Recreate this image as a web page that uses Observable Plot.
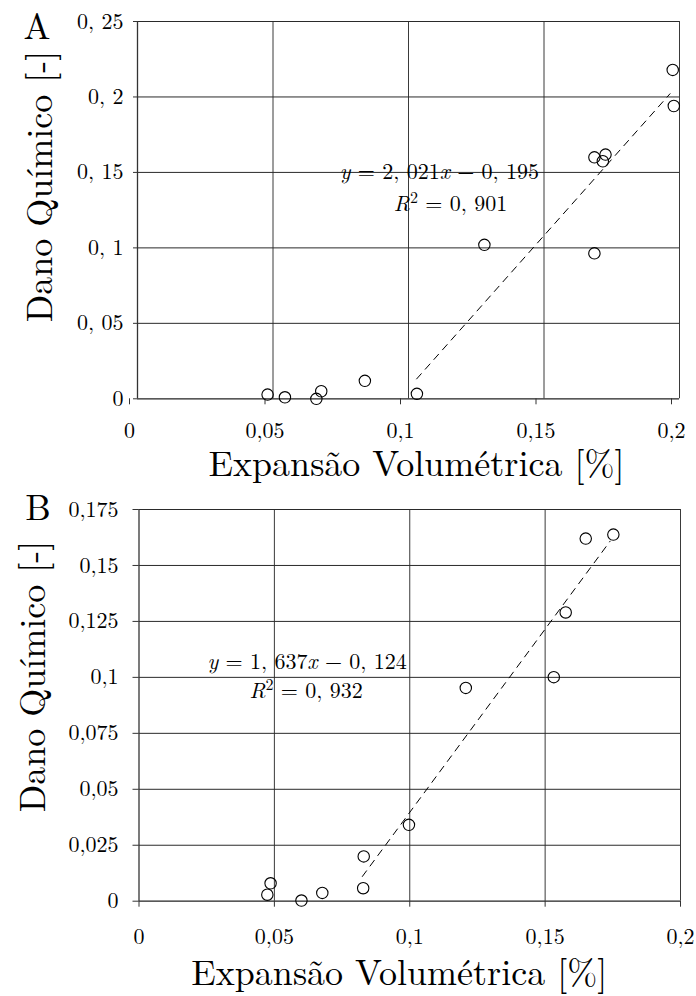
<!DOCTYPE html>
<html><head><meta charset="utf-8">
<script src="https://cdn.jsdelivr.net/npm/d3@7"></script>
<script src="https://cdn.jsdelivr.net/npm/@observablehq/plot@0.6"></script>
<style>
body{margin:0;background:#fff;}
#chart{width:696px;}
#chart svg{display:block;}
</style></head><body><div id="chart"></div>
<script>
// ---- shared x axis ----
const xTicks = [0, 0.05, 0.1, 0.15, 0.2];
const xTickLabels = ["0", "0,05", "0,1", "0,15", "0,2"];
const xTitle = "Expansão Volumétrica [%]";
const yTitle = "Dano Químico [-]";

// ---- panel A ----
const yTicksA = [0, 0.05, 0.1, 0.15, 0.2, 0.25];
const yTickLabelsA = ["0", "0, 05", "0, 1", "0, 15", "0, 2", "0, 25"];
const expansionA = [0.048, 0.0544, 0.066, 0.0678, 0.0839, 0.1031, 0.128, 0.1686, 0.1686, 0.1717, 0.1727, 0.1975, 0.1979];
const damageA    = [0.0028, 0.001, 0.0, 0.005, 0.0119, 0.0033, 0.102, 0.160, 0.0964, 0.1574, 0.1618, 0.2179, 0.194];
const slopeA = 2.021, interceptA = -0.195;
const fitRangeA = [0.103, 0.1965];
const eqTextA = "y = 2, 021x − 0, 195";
const r2TextA = "R² = 0, 901";

// ---- panel B ----
const yTicksB = [0, 0.025, 0.05, 0.075, 0.1, 0.125, 0.15, 0.175];
const yTickLabelsB = ["0", "0,025", "0,05", "0,075", "0,1", "0,125", "0,15", "0,175"];
const expansionB = [0.0474, 0.0486, 0.06, 0.0677, 0.0828, 0.083, 0.0997, 0.1207, 0.1532, 0.1576, 0.165, 0.1752];
const damageB    = [0.0029, 0.008, 0.0003, 0.0037, 0.0058, 0.02, 0.0341, 0.0953, 0.1001, 0.129, 0.162, 0.1638];
const slopeB = 1.637, interceptB = -0.124;
const fitRangeB = [0.0825, 0.174];
const eqTextB = "y = 1, 637x − 0, 124";
const r2TextB = "R² = 0, 932";

const FONT = "'Latin Modern Roman', 'Liberation Serif', serif";

function panel(cfg) {
  const fmtX = d => xTickLabels[xTicks.indexOf(d)];
  const fmtY = d => cfg.yLabels[cfg.yTicks.indexOf(d)];
  const pts = cfg.xs.map((x, i) => ({x, y: cfg.ys[i]}));
  const fit = cfg.fitRange.map(x => ({x, y: cfg.slope * x + cfg.intercept}));
  const ann = [
    {x: cfg.eqPos[0], y: cfg.eqPos[1], t: cfg.eq},
    {x: cfg.r2Pos[0], y: cfg.r2Pos[1], t: cfg.r2}
  ];
  return Plot.plot({
    width: 696, height: cfg.height,
    marginLeft: cfg.ml, marginRight: cfg.mr, marginTop: cfg.mt, marginBottom: cfg.mb,
    x: {domain: [0, 0.2]},
    y: {domain: [0, cfg.yTicks[cfg.yTicks.length - 1]]},
    style: {fontFamily: FONT, color: "#000", background: "#fff", overflow: "visible"},
    marks: [
      Plot.gridX(xTicks.slice(1), {stroke: "#3a3a3a", strokeOpacity: 1, strokeWidth: 1}),
      Plot.gridY(cfg.yTicks.slice(1), {stroke: "#2a2a2a", strokeOpacity: 1, strokeWidth: 1}),
      Plot.ruleX([0], {stroke: "#333", strokeWidth: 1.3}),
      Plot.ruleY([0], {stroke: "#222", strokeWidth: 1.3}),
      Plot.axisX(xTicks, {tickFormat: fmtX, tickSize: 6, tickPadding: cfg.xPad, fontSize: 22, label: null, dx: cfg.xdx, stroke: "#333", fontVariant: "normal"}),
      Plot.axisY(cfg.yTicks, {tickFormat: fmtY, tickSize: cfg.yTickSize, tickPadding: cfg.yPad, fontSize: 22, label: null, stroke: "#333", fontVariant: "normal"}),
      Plot.line(fit, {x: "x", y: "y", stroke: "#000", strokeWidth: 1, strokeDasharray: "7,6"}),
      Plot.dot(pts, {x: "x", y: "y", r: 5.7, stroke: "#000", strokeWidth: 1.1, fill: "none"}),
      Plot.text(ann, {x: "x", y: "y", text: "t", fontSize: 22, textAnchor: "middle", lineAnchor: "middle", className: "math"}),
      Plot.text([xTitle], {frameAnchor: "bottom", dy: cfg.xtDy, dx: cfg.xtDx, fontSize: 36, textAnchor: "middle", lineAnchor: "middle"}),
      Plot.text([yTitle], {frameAnchor: "left", rotate: -90, dx: cfg.ytDx, dy: cfg.ytDy, fontSize: 36, textAnchor: "middle", lineAnchor: "middle"}),
      Plot.text([cfg.letter], {frameAnchor: "top-left", dx: cfg.lDx, dy: cfg.lDy, fontSize: 36, textAnchor: "middle", lineAnchor: "middle"})
    ]
  });
}

function styleMath(svg) {
  d3.select(svg).selectAll(".math text").each(function() {
    const s = this.textContent;
    const el = d3.select(this);
    el.text(null);
    const re = /([xyR])|(²)|([^xyR²]+)/g;
    let m, shifted = false;
    while ((m = re.exec(s))) {
      if (m[1]) {
        const t = el.append("tspan").attr("font-style", "italic").text(m[1]);
        if (shifted) { t.attr("dy", "8"); shifted = false; }
      } else if (m[2]) {
        el.append("tspan").attr("dy", "-8").attr("font-size", "16").text("2");
        shifted = true;
      } else {
        const t = el.append("tspan").text(m[3]);
        if (shifted) { t.attr("dy", "8"); shifted = false; }
      }
    }
  });
}

function applyFont(svg) {
  const s = d3.select(svg);
  s.attr("font-family", FONT).style("font-family", FONT, "important");
  s.selectAll("g, text, tspan").attr("font-family", FONT).style("font-family", FONT, "important");
}

const A = panel({
  xs: expansionA, ys: damageA, yTicks: yTicksA, yLabels: yTickLabelsA,
  slope: slopeA, intercept: interceptA, fitRange: fitRangeA,
  eq: eqTextA, r2: r2TextA, eqPos: [0.1114, 0.150], r2Pos: [0.1155, 0.1293],
  letter: "A", height: 496, ml: 137, mr: 17, mt: 21, mb: 97.7,
  xPad: 18, xdx: -8, yTickSize: 4, yPad: 10,
  xtDy: 66, xtDx: 8, ytDx: -97, ytDy: -23.7, lDx: -100.5, lDy: 6
});
const B = panel({
  xs: expansionB, ys: damageB, yTicks: yTicksB, yLabels: yTickLabelsB,
  slope: slopeB, intercept: interceptB, fitRange: fitRangeB,
  eq: eqTextB, r2: r2TextB, eqPos: [0.0621, 0.1067], r2Pos: [0.0617, 0.0941],
  letter: "B", height: 500, ml: 138.5, mr: 16, mt: 13, mb: 95.3,
  xPad: 21, xdx: 0, yTickSize: 6, yPad: 14.5,
  xtDy: 72.5, xtDx: -10.5, ytDx: -106, ytDy: -28.85, lDx: -101, lDy: -1.5
});
styleMath(A); styleMath(B);
applyFont(A); applyFont(B);
document.getElementById("chart").append(A, B);
</script>
</body></html>
